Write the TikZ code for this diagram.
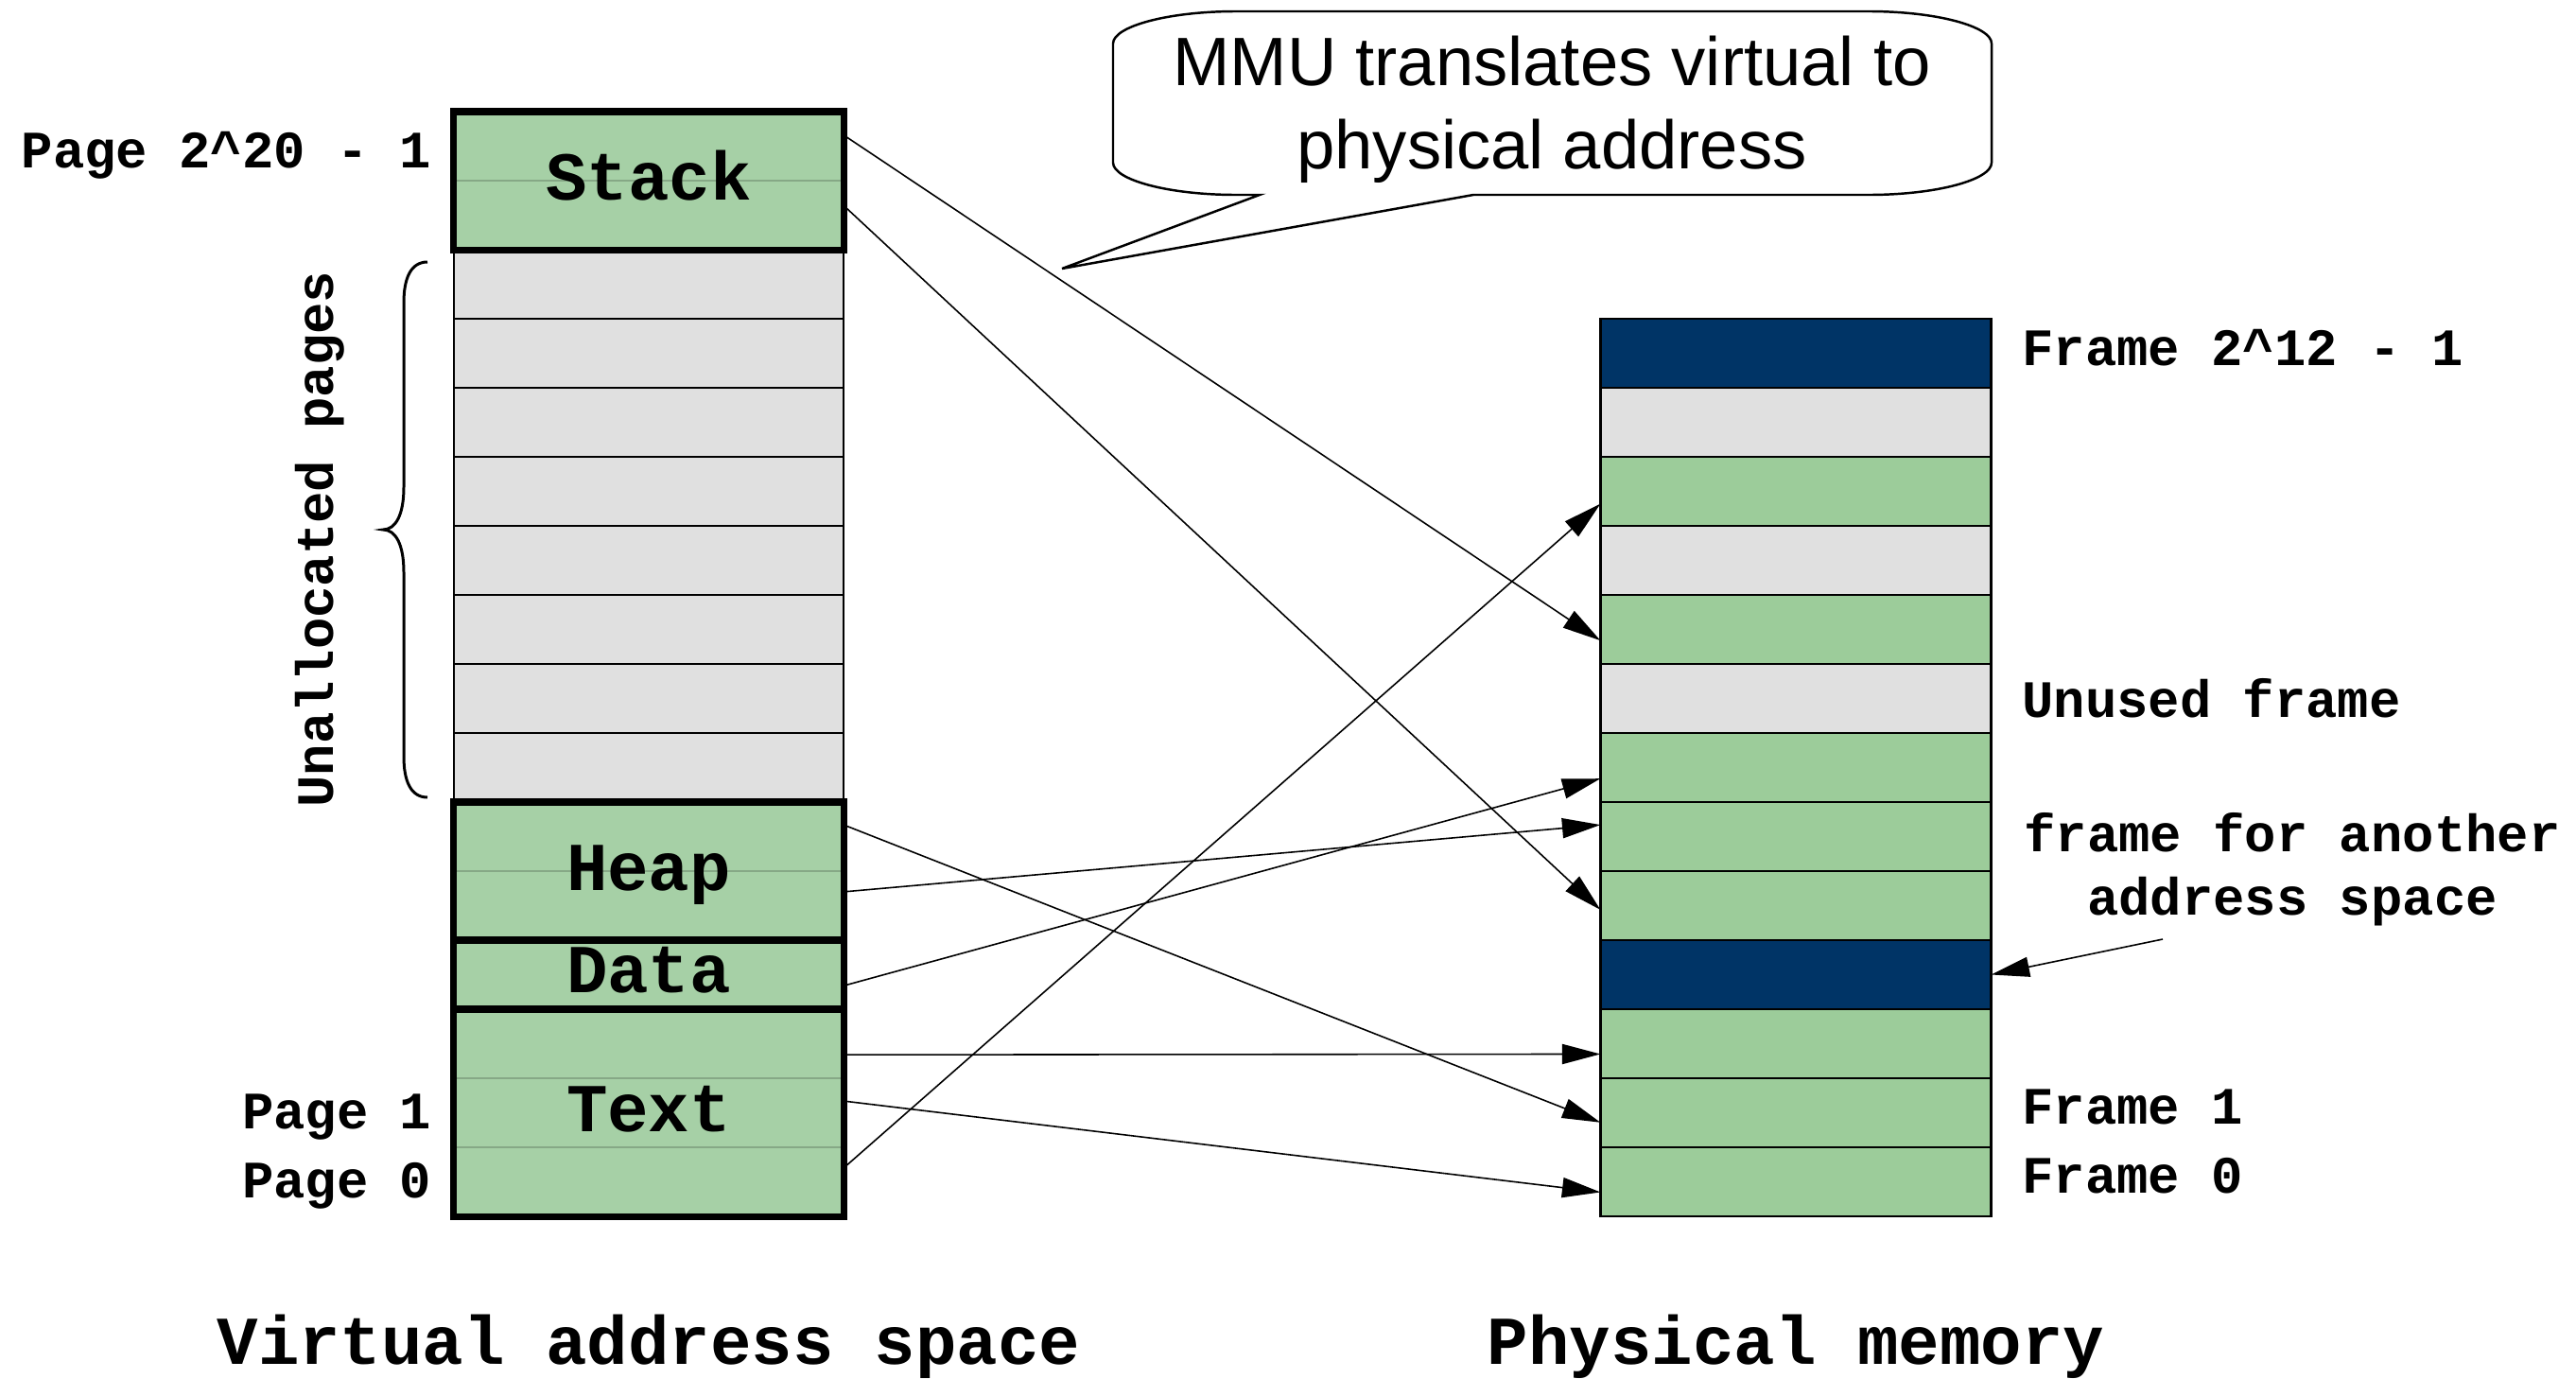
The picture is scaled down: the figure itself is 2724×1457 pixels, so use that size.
\documentclass[tikz,border=0pt]{standalone}
\usepackage{fontspec}
\setmainfont{Liberation Sans}
\setmonofont{Liberation Mono}
\usetikzlibrary{calc,arrows.meta}
\definecolor{vgreen}{HTML}{A6D0A6}
\definecolor{pgreen}{HTML}{9CCC9A}
\definecolor{pgray}{HTML}{E0E0E0}
\definecolor{dblue}{HTML}{003466}
\definecolor{sepgreen}{HTML}{86A886}
\begin{document}
\begin{tikzpicture}[x=0.01cm,y=-0.01cm,
 vpage/.style={rectangle, inner sep=0pt, outer sep=0pt, minimum width=4.12cm, minimum height=0.73cm},
 grayp/.style={vpage, fill=pgray, draw=black, line width=0.7pt},
 greenp/.style={vpage, fill=vgreen},
 frm/.style={rectangle, inner sep=0pt, outer sep=0pt, minimum width=4.13cm, minimum height=0.73cm, draw=black, line width=0.75pt},
 seg/.style={draw=black, line width=2pt},
 sepl/.style={draw=sepgreen, line width=0.75pt},
 arr/.style={line width=0.45pt, -{Triangle[length=11.5pt,width=6pt]}},
 lbl/.style={font=\ttfamily\bfseries\fontsize{15.8}{19}\selectfont, inner sep=0pt},
 seglbl/.style={font=\ttfamily\bfseries\fontsize{20.6}{24}\selectfont, inner sep=0pt},
 bub/.style={font=\fontsize{20.6}{25}\selectfont, inner sep=0pt},
]
\useasboundingbox (0,0) rectangle (2724,1457);
\fill[white] (0,0) rectangle (2724,1457);

% virtual pages
\foreach \i/\s in {0/greenp,1/greenp,2/grayp,3/grayp,4/grayp,5/grayp,6/grayp,7/grayp,8/grayp,9/grayp,10/greenp,11/greenp,12/greenp,13/greenp,14/greenp,15/greenp}
  \node[\s] (p\i) at (686,{154.5+73*\i}) {};
\foreach \k in {0,10,13,14}
  \draw[sepl] (p\k.south west) -- (p\k.south east);
\draw[seg] (p0.north west) rectangle (p1.south east);
\draw[seg] (p10.north west) rectangle (p11.south east);
\draw[seg] (p12.north west) rectangle (p12.south east);
\draw[seg] (p13.north west) rectangle (p15.south east);

\node[seglbl, anchor=base] (stk) at ($(p0.south)+(0,20)$) {Stack};
\node[seglbl, anchor=base] (hp) at ($(p10.south)+(0,20)$) {Heap};
\node[seglbl, anchor=base] (dt) at ($(p12.center)+(0,19)$) {Data};
\node[seglbl, anchor=base] (tx) at ($(p14.center)+(0,20)$) {Text};

\node[lbl, anchor=base east] (lpmax) at ($(p0.west)+(-23,23)$) {Page 2\textasciicircum20 - 1};
\node[lbl, anchor=base east] (lp1) at ($(p14.west)+(-23,17)$) {Page 1};
\node[lbl, anchor=base east] (lp0) at ($(p15.west)+(-23,17)$) {Page 0};

% brace
\draw[line width=0.85pt] (452,277) .. controls (434,277) and (427,295) .. (427,320) -- (427,515) .. controls (427,545) and (418,560) .. (405,560) .. controls (418,560) and (427,575) .. (427,605) -- (427,800) .. controls (427,825) and (434,843) .. (452,843);
\node[lbl, rotate=90, anchor=base] (unal) at (352,570) {Unallocated pages};

% physical frames
\foreach \j/\c in {0/dblue,1/pgray,2/pgreen,3/pgray,4/pgreen,5/pgray,6/pgreen,7/pgreen,8/pgreen,9/dblue,10/pgreen,11/pgreen,12/pgreen}
  \node[frm, fill=\c] (f\j) at (1899,{373.5+73*\j}) {};

\node[lbl, anchor=base west] (lfmax) at ($(f0.east)+(32,13)$) {Frame 2\textasciicircum12 - 1};
\node[lbl, anchor=base west] (lunused) at ($(f5.east)+(32,20)$) {Unused frame};
\node[lbl, anchor=base west] (lf1) at ($(f11.east)+(32,12)$) {Frame 1};
\node[lbl, anchor=base west] (lf0) at ($(f12.east)+(32,12)$) {Frame 0};
\node[lbl, anchor=base] (lanot1) at (2424,900) {frame for another};
\node[lbl, anchor=base] (lanot2) at (2424,967) {address space};
\coordinate (anotfrom) at (2287,993);
\draw[arr] (anotfrom) -- (f9.east);

% mappings
\draw[arr] ($(p0.north east)!0.34!(p0.south east)$) -- ($(f4.north west)!0.66!(f4.south west)$);
\draw[arr] ($(p1.north east)!0.36!(p1.south east)$) -- ($(f8.north west)!0.56!(f8.south west)$);
\draw[arr] ($(p10.north east)!0.33!(p10.south east)$) -- ($(f11.north west)!0.64!(f11.south west)$);
\draw[arr] ($(p11.north east)!0.3!(p11.south east)$) -- ($(f7.north west)!0.33!(f7.south west)$);
\draw[arr] ($(p12.north east)!0.66!(p12.south east)$) -- ($(f6.north west)!0.66!(f6.south west)$);
\draw[arr] ($(p13.north east)!0.66!(p13.south east)$) -- ($(f10.north west)!0.65!(f10.south west)$);
\draw[arr] ($(p14.north east)!0.33!(p14.south east)$) -- ($(f12.north west)!0.65!(f12.south west)$);
\draw[arr] ($(p15.north east)!0.3!(p15.south east)$) -- ($(f2.north west)!0.68!(f2.south west)$);

% callout
\draw[line width=0.7pt, fill=white] (1332,206) -- (1123,284) -- (1558,206) -- (1976,206) .. controls (2048,206) and (2106,190) .. (2106,172) -- (2106,46) .. controls (2106,28) and (2048,12) .. (1976,12) -- (1307,12) .. controls (1235,12) and (1177,28) .. (1177,46) -- (1177,172) .. controls (1177,190) and (1235,206) .. (1307,206) -- cycle;
\node[bub, anchor=base] (mmu1) at (1641,90) {MMU translates virtual to};
\node[bub, anchor=base] (mmu2) at (1641,178) {physical address};

% captions
\node[seglbl, anchor=base] (vas) at (686,1442) {Virtual address space};
\node[seglbl, anchor=base] (pmem) at (1899,1442) {Physical memory};
\end{tikzpicture}
\end{document}
